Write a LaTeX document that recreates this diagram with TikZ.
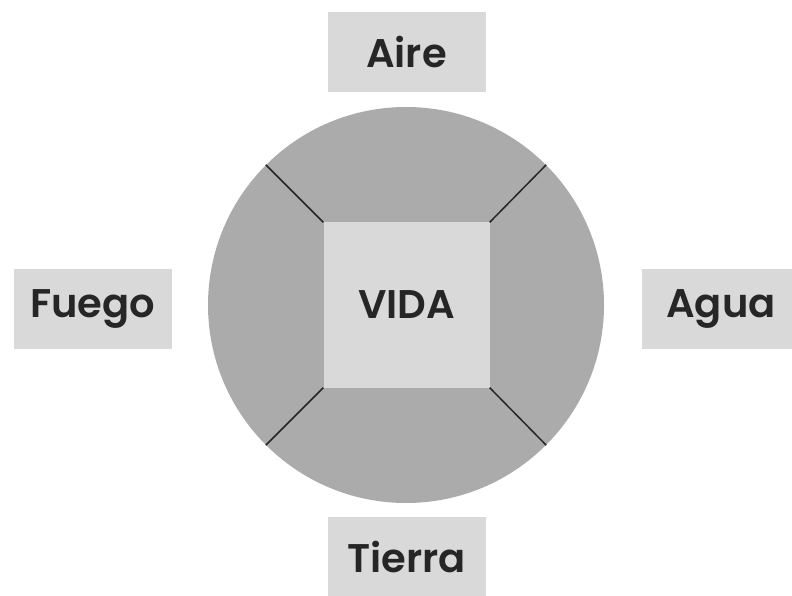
\documentclass[tikz,border=0pt]{standalone}
\usepackage{fontspec}
\setmainfont{Poppins}[BoldFont={Poppins SemiBold}]
\usepackage{tikz}
\usetikzlibrary{positioning}
\definecolor{ringgray}{HTML}{ABABAB}
\definecolor{boxgray}{HTML}{D9D9D9}

\begin{document}
\begin{tikzpicture}[x=1pt,y=1pt,
  element/.style={fill=boxgray,rectangle,minimum width=158pt,minimum height=80pt,inner sep=0pt,
    font=\fontsize{40}{44}\selectfont\bfseries,text=black!85},
  spoke/.style={draw=black!85,line width=1.5pt}]
  \useasboundingbox (0,0) rectangle (792,595);
  \node[circle,fill=ringgray,minimum size=396pt,inner sep=0pt] (ring) at (406,290) {};
  \node[element,minimum width=166pt,minimum height=165pt] (vida) at (406.5,290) {VIDA};
  \node[element] (aire) at (406.5,542.5) {Aire};
  \node[element] (fuego) at (92.5,286) {Fuego};
  \node[element] (agua) at (721,286) {Agua};
  \node[element] (tierra) at (406.5,38) {Tierra};
  \draw[spoke] (vida.north west) -- (ring.north west);
  \draw[spoke] (vida.north east) -- (ring.north east);
  \draw[spoke] (vida.south west) -- (ring.south west);
  \draw[spoke] (vida.south east) -- (ring.south east);
\end{tikzpicture}
\end{document}
